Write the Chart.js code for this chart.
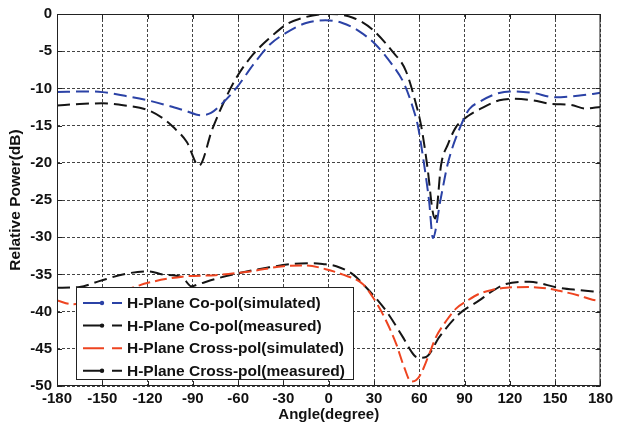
<!DOCTYPE html>
<html>
<head>
<meta charset="utf-8">
<script src="https://cdn.jsdelivr.net/npm/chart.js@4.4.1/dist/chart.umd.min.js"></script>
<style>
  html, body { margin: 0; padding: 0; background: #fff; }
  #wrap { width: 617px; height: 429px; position: relative; }
</style>
</head>
<body>
<div id="wrap"><canvas id="chart" width="617" height="429"></canvas></div>
<script>
// Tick labels
const xTicks = [-180, -150, -120, -90, -60, -30, 0, 30, 60, 90, 120, 150, 180];
const yTicks = [0, -5, -10, -15, -20, -25, -30, -35, -40, -45, -50];

// H-Plane Co-pol (simulated)
const coSimAngle = [-180, -160, -150, -135, -120, -105, -95, -85, -78, -72, -61, -50, -39, -28, -15, -2, 9, 20, 31, 42, 50, 55.6, 59, 63, 66.5, 69, 74, 79, 87.5, 93, 100, 110, 120, 135, 150, 165, 180];
const coSimDb    = [-10.5, -10.4, -10.5, -11.0, -11.6, -12.4, -13.0, -13.6, -13.3, -12.3, -9.9, -6.8, -4.1, -2.5, -1.2, -0.85, -1.2, -2.3, -4.1, -6.8, -9.4, -12.5, -15, -20, -25.2, -30.1, -25, -20, -15, -12.8, -11.8, -10.8, -10.4, -10.6, -11.2, -11.0, -10.6];

// H-Plane Co-pol (measured)
const coMeasAngle = [-180, -165, -150, -135, -120, -110, -103, -94, -86, -77, -68, -61, -50, -39, -28, -15, 1, 16, 29, 42, 51, 57.8, 61.2, 65.5, 68.8, 70.5, 74.4, 79, 84.3, 93, 100, 113, 122, 135, 148, 160, 170, 180];
const coMeasDb    = [-12.3, -12.1, -12.0, -12.3, -12.9, -14.0, -15.2, -17.2, -20.4, -15.4, -11.2, -8.5, -5.4, -3.2, -1.4, -0.4, 0, -0.5, -2.1, -5.0, -7.6, -12.1, -15, -20.8, -26.5, -27.5, -20.3, -17.5, -15.2, -13.6, -12.8, -11.6, -11.4, -11.6, -12.1, -12.2, -12.7, -12.5];

// H-Plane Cross-pol (simulated)
const xSimAngle = [-180, -170, -160, -145, -133, -119, -97, -75, -52, -30, -15, -2, 9, 22.5, 29, 35.7, 44.6, 50, 54.5, 58, 61.2, 66, 71.1, 78, 84.3, 92, 99.7, 108, 117.4, 132.8, 145, 152.6, 165, 174.7, 180];
const xSimDb    = [-38.5, -39.0, -38.8, -38.0, -37.0, -36.1, -35.3, -35.1, -34.6, -33.9, -33.8, -34.3, -35.0, -36.3, -38.0, -40.3, -44.3, -47.5, -49.4, -49.2, -48.3, -46.0, -43.4, -41.2, -39.6, -38.5, -37.6, -37.1, -36.8, -36.7, -36.9, -37.2, -37.8, -38.4, -38.6];

// H-Plane Cross-pol (measured)
const xMeasAngle = [-180, -165, -152, -134, -119, -110, -97, -91, -86, -75, -59, -41, -24, -10, -4, 5, 16, 25, 38, 49, 56.7, 60, 64.5, 73.3, 86.5, 99.7, 108, 117.4, 132.8, 152.6, 165, 180];
const xMeasDb    = [-36.8, -36.7, -35.9, -34.9, -34.6, -35.0, -35.4, -36.6, -36.3, -35.6, -34.8, -34.1, -33.6, -33.5, -33.6, -33.9, -35.0, -36.8, -39.9, -43.4, -45.9, -46.2, -46.1, -43.4, -40.3, -38.5, -37.3, -36.3, -36.0, -36.8, -37.1, -37.4];

const seriesNames = [
  'H-Plane Co-pol(simulated)',
  'H-Plane Co-pol(measured)',
  'H-Plane Cross-pol(simulated)',
  'H-Plane Cross-pol(measured)'
];

const FONT = '"Liberation Sans", Arial, Helvetica, sans-serif';

function pts(xs, ys) {
  return xs.map((x, i) => ({ x: x, y: ys[i] }));
}

function series(label, data, color, dash, dot) {
  return {
    label: label,
    data: data,
    borderColor: color,
    backgroundColor: color,
    borderWidth: 2,
    borderDash: dash,
    pointRadius: 0,
    cubicInterpolationMode: 'monotone',
    fill: false,
    legendDot: dot
  };
}

// Box around the plot plus the small inward tick marks (MATLAB style)
const boxPlugin = {
  id: 'box',
  afterDatasetsDraw(chart) {
    const { ctx, chartArea: a, scales } = chart;
    ctx.save();
    ctx.strokeStyle = '#222';
    ctx.lineWidth = 1;
    ctx.strokeRect(a.left + 0.5, a.top + 0.5, a.right - a.left - 1, a.bottom - a.top - 1);
    ctx.beginPath();
    xTicks.forEach(v => {
      const px = Math.round(scales.x.getPixelForValue(v)) + 0.5;
      ctx.moveTo(px, a.bottom); ctx.lineTo(px, a.bottom - 5);
      ctx.moveTo(px, a.top); ctx.lineTo(px, a.top + 5);
    });
    yTicks.forEach(v => {
      const py = Math.round(scales.y.getPixelForValue(v)) + 0.5;
      ctx.moveTo(a.left, py); ctx.lineTo(a.left + 5, py);
      ctx.moveTo(a.right, py); ctx.lineTo(a.right - 5, py);
    });
    ctx.stroke();
    ctx.restore();
  }
};

// Legend box in the lower left of the plot
const legendPlugin = {
  id: 'boxLegend',
  afterDraw(chart) {
    const ctx = chart.ctx;
    const x0 = 76, y0 = 287, w = 277, h = 92;
    ctx.save();
    ctx.fillStyle = '#fff';
    ctx.fillRect(x0, y0, w, h);
    ctx.strokeStyle = '#222';
    ctx.lineWidth = 1;
    ctx.strokeRect(x0 + 0.5, y0 + 0.5, w, h);
    ctx.font = 'bold 15.5px ' + FONT;
    ctx.textBaseline = 'middle';
    chart.data.datasets.forEach((ds, i) => {
      const y = y0 + 16 + i * 22.6;
      ctx.strokeStyle = ds.borderColor;
      ctx.fillStyle = ds.borderColor;
      ctx.lineWidth = 2;
      ctx.beginPath();
      ctx.moveTo(83, y); ctx.lineTo(104, y);
      ctx.moveTo(112, y); ctx.lineTo(122, y);
      ctx.stroke();
      if (ds.legendDot) {
        ctx.beginPath();
        ctx.arc(102, y, 2.2, 0, Math.PI * 2);
        ctx.fill();
      }
      ctx.fillStyle = '#111';
      ctx.fillText(ds.label, 127, y + 1);
    });
    ctx.restore();
  }
};

const ctx = document.getElementById('chart').getContext('2d');
new Chart(ctx, {
  type: 'line',
  data: {
    datasets: [
      series(seriesNames[0], pts(coSimAngle, coSimDb), '#2b42a6', [13, 6], true),
      series(seriesNames[1], pts(coMeasAngle, coMeasDb), '#151515', [13, 6], true),
      series(seriesNames[2], pts(xSimAngle, xSimDb), '#ee4420', [12, 5], false),
      series(seriesNames[3], pts(xMeasAngle, xMeasDb), '#151515', [13, 6], true)
    ]
  },
  options: {
    responsive: false,
    animation: false,
    layout: { padding: { top: 11, right: 14, left: 0, bottom: 0 } },
    plugins: {
      legend: { display: false },
      tooltip: { enabled: false }
    },
    scales: {
      x: {
        type: 'linear',
        min: -180,
        max: 180,
        afterBuildTicks: s => { s.ticks = xTicks.map(v => ({ value: v })); },
        afterFit: s => { s.height = 43; },
        grid: { color: '#444', lineWidth: 1, drawTicks: false },
        border: { display: false, dash: [3, 2] },
        ticks: {
          color: '#111',
          padding: 4,
          maxRotation: 0,
          font: { family: FONT, size: 15, weight: 'bold' }
        },
        title: {
          display: true,
          text: 'Angle(degree)',
          color: '#111',
          padding: { top: 0, bottom: 5 },
          font: { family: FONT, size: 15, weight: 'bold' }
        }
      },
      y: {
        type: 'linear',
        min: -50,
        max: 0,
        afterBuildTicks: s => { s.ticks = yTicks.map(v => ({ value: v })); },
        afterFit: s => { s.width = 57; },
        grid: { color: '#444', lineWidth: 1, drawTicks: false },
        border: { display: false, dash: [3, 2] },
        ticks: {
          color: '#111',
          padding: 5,
          font: { family: FONT, size: 15, weight: 'bold' }
        },
        title: {
          display: true,
          text: 'Relative Power(dB)',
          color: '#111',
          padding: { top: 6, bottom: 0 },
          font: { family: FONT, size: 15.5, weight: 'bold' }
        }
      }
    }
  },
  plugins: [boxPlugin, legendPlugin]
});
</script>
</body>
</html>
